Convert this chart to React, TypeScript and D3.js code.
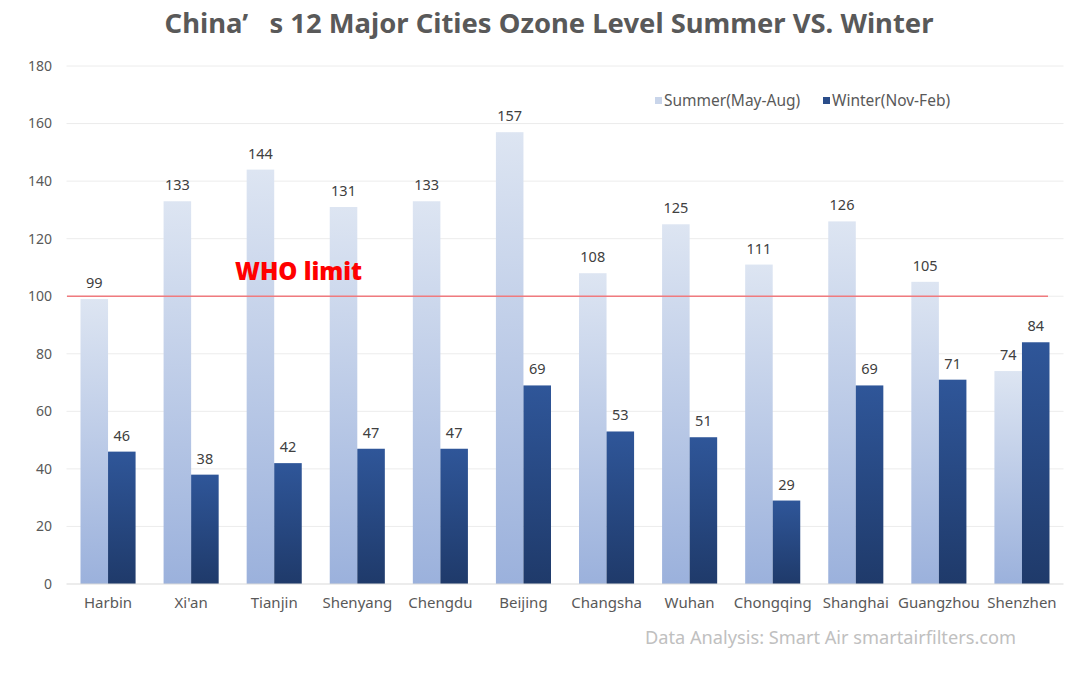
import * as d3 from "d3";

const cities = ["Harbin", "Xi'an", "Tianjin", "Shenyang", "Chengdu", "Beijing", "Changsha", "Wuhan", "Chongqing", "Shanghai", "Guangzhou", "Shenzhen"];
const summer = [99, 133, 144, 131, 133, 157, 108, 125, 111, 126, 105, 74];
const winter = [46, 38, 42, 47, 47, 69, 53, 51, 29, 69, 71, 84];
const seriesNames = ["Summer(May-Aug)", "Winter(Nov-Feb)"];
const yTicks = [0, 20, 40, 60, 80, 100, 120, 140, 160, 180];
const whoLimit = 100;

const width = 1080;
const height = 680;
const marginLeft = 66.5;
const marginRight = 16.5;
const marginTop = 66;
const marginBottom = 96;

const font = "'Noto Sans', 'DejaVu Sans', sans-serif";

export default function App() {
    const x = d3.scaleBand()
        .domain(cities)
        .range([marginLeft, width - marginRight])
        .paddingInner(0.337)
        .paddingOuter(0.1685);

    const x1 = d3.scaleBand()
        .domain(seriesNames)
        .range([0, x.bandwidth()]);

    const y = d3.scaleLinear()
        .domain([0, 180])
        .range([height - marginBottom, marginTop]);

    const rows = cities.map((c, i) => ({ city: c, values: [summer[i], winter[i]] }));
    const fills = ["url(#summerGrad)", "url(#winterGrad)"];

    return (
        <div style={{ position: "absolute", left: 0, top: 0 }}>
            <svg width={width} height={height} style={{ display: "block", background: "#fff" }}>
                <defs>
                    <linearGradient id="summerGrad" x1="0" y1="0" x2="0" y2="1">
                        <stop offset="0%" stopColor="#dde5f2" />
                        <stop offset="100%" stopColor="#9bb1dc" />
                    </linearGradient>
                    <linearGradient id="winterGrad" x1="0" y1="0" x2="0" y2="1">
                        <stop offset="0%" stopColor="#2f5699" />
                        <stop offset="100%" stopColor="#1f3a6a" />
                    </linearGradient>
                </defs>

                <text x={549} y={33} textAnchor="middle" fontFamily={font} fontWeight="bold"
                    fontSize={27.4} fill="#595959" style={{ whiteSpace: "pre" }}>
                    {"China’   s 12 Major Cities Ozone Level Summer VS. Winter"}
                </text>

                {/* gridlines + y labels */}
                {yTicks.map(t => (
                    <g key={t}>
                        {t > 0 && (
                            <line x1={marginLeft} x2={width - marginRight} y1={y(t)} y2={y(t)}
                                stroke="#ececec" strokeWidth={1} />
                        )}
                        <text x={52} y={y(t)} dy="0.35em" textAnchor="end" fontFamily={font}
                            fontSize={14} fill="#595959">{t}</text>
                    </g>
                ))}

                {/* bars */}
                {rows.map(r => (
                    <g key={r.city} transform={`translate(${x(r.city)},0)`}>
                        {r.values.map((v, j) => (
                            <g key={j}>
                                <rect x={x1(seriesNames[j])} y={y(v)} width={x1.bandwidth()}
                                    height={y(0) - y(v)} fill={fills[j]} />
                                <text x={(x1(seriesNames[j]) ?? 0) + x1.bandwidth() / 2} y={y(v) - 11}
                                    textAnchor="middle" fontFamily={font} fontSize={14.5} fill="#404040">{v}</text>
                            </g>
                        ))}
                        <text x={x.bandwidth() / 2} y={y(0) + 24} textAnchor="middle" fontFamily={font}
                            fontSize={15} fill="#595959">{r.city}</text>
                    </g>
                ))}

                {/* x axis */}
                <line x1={marginLeft} x2={width - marginRight} y1={y(0)} y2={y(0)} stroke="#d9d9d9" />

                {/* WHO limit */}
                <line x1={67} x2={1048} y1={y(whoLimit)} y2={y(whoLimit)} stroke="#f07a7e" strokeWidth={1.5} />
                <text x={235} y={y(whoLimit) - 16} fontFamily={font} fontWeight="900" fontSize={24} fill="#ff0000">
                    WHO limit
                </text>

                {/* legend */}
                <rect x={655} y={97} width={7} height={7} fill="#c9d5ea" />
                <text x={664} y={101} dy="0.35em" fontFamily={font} fontSize={15.5} fill="#595959">{seriesNames[0]}</text>
                <rect x={823} y={97} width={7} height={7} fill="#2a4d8a" />
                <text x={832} y={101} dy="0.35em" fontFamily={font} fontSize={15.5} fill="#595959">{seriesNames[1]}</text>

                <text x={645} y={644} fontFamily={font} fontSize={18.2} fill="#c0c0c0">
                    Data Analysis: Smart Air smartairfilters.com
                </text>
            </svg>
        </div>
    );
}
